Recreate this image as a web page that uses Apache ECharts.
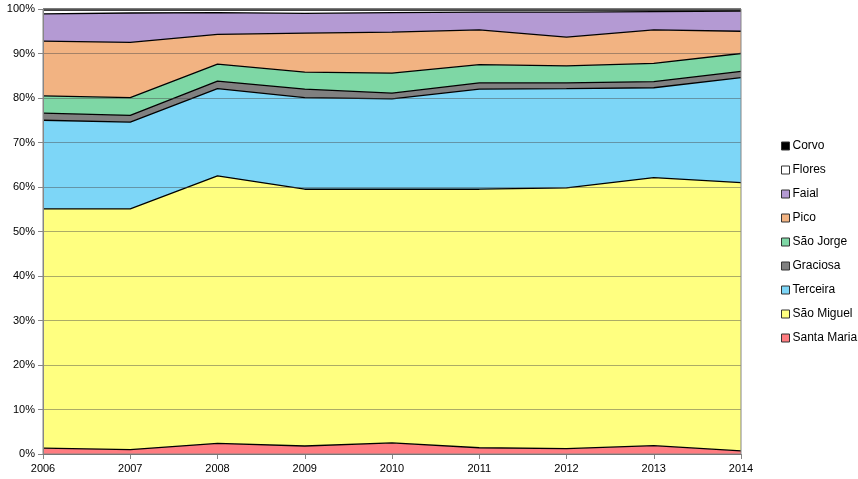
<!DOCTYPE html>
<html><head><meta charset="utf-8">
<script src="https://cdn.jsdelivr.net/npm/echarts@6/dist/echarts.min.js"></script>
<style>html,body{margin:0;padding:0;background:#fff}#c{width:858px;height:479px}</style>
</head><body><div id="c"></div>
<script>
const years = ['2006','2007','2008','2009','2010','2011','2012','2013','2014'];
const santaMaria = [1.3,1.0,2.4,1.8,2.5,1.4,1.2,1.9,0.7];
const saoMiguel  = [53.8,54.1,60.1,57.7,57.0,58.1,58.6,60.2,60.3];
const terceira   = [19.9,19.5,19.6,20.6,20.3,22.5,22.3,20.2,23.6];
const graciosa   = [1.6,1.5,1.7,1.9,1.3,1.4,1.3,1.4,1.4];
const saoJorge   = [3.9,4.0,3.8,3.8,4.5,4.1,3.8,4.1,4.0];
const pico       = [12.3,12.4,6.7,8.8,9.2,7.8,6.5,7.5,5.0];
const faial      = [6.1,6.6,4.9,4.4,4.4,4.0,5.6,4.1,4.5];
const flores     = [0.85,0.65,0.55,0.75,0.55,0.45,0.45,0.35,0.25];
const corvo      = [0.25,0.25,0.25,0.25,0.25,0.25,0.25,0.25,0.25];

const names = ['Santa Maria','São Miguel','Terceira','Graciosa','São Jorge','Pico','Faial','Flores','Corvo'];
const values = [santaMaria,saoMiguel,terceira,graciosa,saoJorge,pico,faial,flores,corvo];
const colors = ['#FF7C80','#FFFF80','#7DD6F7','#808080','#7ED7A5','#F2B382','#B49AD3','#FFFFFF','#000000'];

const chart = echarts.init(document.getElementById('c'));
chart.setOption({
  animation:false,
  textStyle:{fontFamily:'Liberation Sans'},
  grid:{left:43,right:117,top:9,bottom:25,show:true,borderColor:'#868686',borderWidth:1,backgroundColor:'transparent',z:6},
  legend:{
    orient:'vertical', left:776, top:134,
    data:names.slice().reverse(),
    icon:'rect', itemWidth:8, itemHeight:8, itemGap:10,
    itemStyle:{borderColor:'#333',borderWidth:1},
    textStyle:{fontSize:12,color:'#000',padding:[0,0,0,-2],lineHeight:14,height:14}
  },
  xAxis:{
    type:'category', data:years, boundaryGap:false,
    axisLine:{lineStyle:{color:'#868686'}},
    axisTick:{show:true,length:5,lineStyle:{color:'#868686'}},
    axisLabel:{color:'#000',fontSize:11,margin:9}
  },
  yAxis:{
    type:'value', min:0, max:100, interval:10, z:5,
    axisLine:{show:true,lineStyle:{color:'#868686'}},
    axisTick:{show:true,length:5,lineStyle:{color:'#868686'}},
    axisLabel:{color:'#000',fontSize:11,formatter:'{value}%',margin:8},
    splitLine:{lineStyle:{color:'rgba(70,70,70,0.45)',width:1}}
  },
  series:names.map((n,i)=>({
    name:n, type:'line', stack:'total', data:values[i],
    symbol:'none', smooth:false,
    itemStyle:{color:colors[i]},
    lineStyle:{color:'#000',width:1.3},
    areaStyle:{color:colors[i],opacity:1},
    z:2
  }))
});
</script></body></html>
